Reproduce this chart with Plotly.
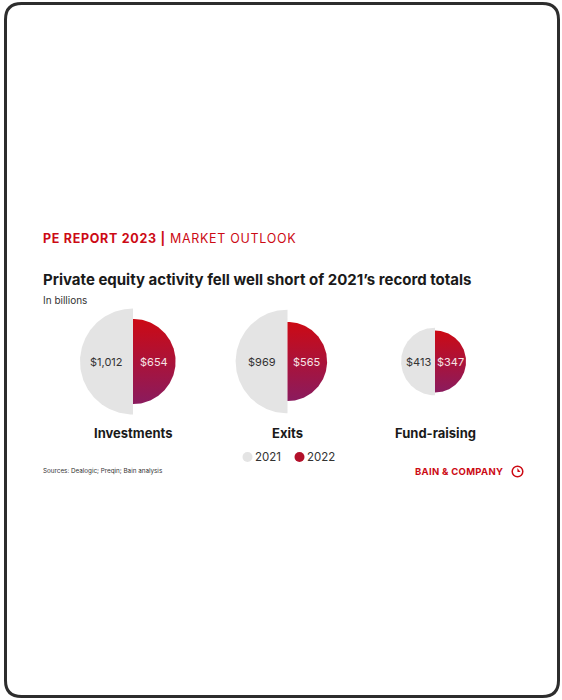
import numpy as np
import plotly.graph_objects as go

# ---- data ----
categories = ["Investments", "Exits", "Fund-raising"]
values_2021 = [1012, 969, 413]
values_2022 = [654, 565, 347]
years = ["2021", "2022"]

# ---- layout / style ----
W, H = 562, 700
centers_x = [133, 287.5, 435]
center_y = 361.5
radius_per_sqrt = 1.666          # area-proportional scaling: r = k * sqrt(value)
GRAY = "#e4e4e4"
RED = "#cc0a14"
PURPLE = "#8a1b5e"
TEXT = "#1a1a1a"
FONT = "Inter"

fig = go.Figure()


def half_disk(cx, cy, r, side):
    if side == "left":
        th = np.linspace(np.pi / 2, 3 * np.pi / 2, 121)
    else:
        th = np.linspace(-np.pi / 2, np.pi / 2, 121)
    x = cx + r * np.cos(th)
    y = cy - r * np.sin(th)
    return np.append(x, x[0]), np.append(y, y[0])


for cat, v1, v2, cx in zip(categories, values_2021, values_2022, centers_x):
    r1 = radius_per_sqrt * np.sqrt(v1)
    r2 = radius_per_sqrt * np.sqrt(v2)
    x, y = half_disk(cx, center_y, r1, "left")
    fig.add_trace(go.Scatter(x=x, y=y, mode="lines", fill="toself",
                             fillcolor=GRAY, line=dict(width=0),
                             hoverinfo="skip", showlegend=False))
    x, y = half_disk(cx, center_y, r2, "right")
    fig.add_trace(go.Scatter(x=x, y=y, mode="lines", fill="toself",
                             fillgradient=dict(type="vertical",
                                               start=center_y - r2, stop=center_y + r2,
                                               colorscale=[[0, RED], [1, PURPLE]]),
                             line=dict(width=0),
                             hoverinfo="skip", showlegend=False))
    fig.add_annotation(x=cx - r1 / 2, y=center_y, text=f"${v1:,}", showarrow=False,
                       font=dict(family=FONT, size=11, color="#333333"))
    fig.add_annotation(x=cx + r2 / 2, y=center_y, text=f"${v2:,}", showarrow=False,
                       font=dict(family=FONT, size=11, color="#f6e4e6"))
    fig.add_annotation(x=cx, y=433, text=f"<b>{cat}</b>", showarrow=False,
                       font=dict(family=FONT, size=13, color=TEXT))

# legend
legend_x = [247.5, 299.5]
legend_colors = [GRAY, "#b3102a"]
for lx, col, yr in zip(legend_x, legend_colors, years):
    fig.add_trace(go.Scatter(x=[lx], y=[457], mode="markers",
                             marker=dict(size=10, color=col, line=dict(width=0)),
                             hoverinfo="skip", showlegend=False))
    fig.add_annotation(x=lx + 5, y=457, text=yr, showarrow=False, xanchor="left",
                       font=dict(family=FONT, size=11.5, color="#333333"))

# header texts
fig.add_annotation(x=41, y=238, xanchor="left", showarrow=False,
                   text='<span style="letter-spacing:0.7px"><b>PE REPORT 2023 |</b> MARKET OUTLOOK</span>',
                   font=dict(family=FONT, size=12.5, color=RED))
fig.add_annotation(x=41, y=279, xanchor="left", showarrow=False,
                   text="<b>Private equity activity fell well short of 2021’s record totals</b>",
                   font=dict(family=FONT, size=15, color=TEXT))
fig.add_annotation(x=41, y=300, xanchor="left", showarrow=False,
                   text="In billions",
                   font=dict(family=FONT, size=10, color="#333333"))
fig.add_annotation(x=41, y=471, xanchor="left", showarrow=False,
                   text="Sources: Dealogic; Preqin; Bain analysis",
                   font=dict(family=FONT, size=6.3, color="#333333"))
fig.add_annotation(x=505, y=471.5, xanchor="right", showarrow=False,
                   text='<span style="letter-spacing:0.3px"><b>BAIN &amp; COMPANY</b></span>',
                   font=dict(family=FONT, size=9.5, color=RED))

# logo mark
lcx, lcy, lr = 517.5, 471.5, 5.3
fig.add_shape(type="circle", x0=lcx - lr, x1=lcx + lr, y0=lcy - lr, y1=lcy + lr,
              xref="x", yref="y", line=dict(color=RED, width=1.5))
fig.add_shape(type="path", xref="x", yref="y",
              path=f"M {lcx},{lcy + 0.5} L {lcx - 0.2},{lcy - 3.6} L {lcx + 3},{lcy + 0.5} Z",
              fillcolor=RED, line=dict(width=0))

# rounded frame
x0, y0, x1, y1, rr = 5.5, 3.5, 558.5, 696.5, 16
frame = (f"M {x0 + rr},{y0} L {x1 - rr},{y0} Q {x1},{y0} {x1},{y0 + rr} "
         f"L {x1},{y1 - rr} Q {x1},{y1} {x1 - rr},{y1} "
         f"L {x0 + rr},{y1} Q {x0},{y1} {x0},{y1 - rr} "
         f"L {x0},{y0 + rr} Q {x0},{y0} {x0 + rr},{y0} Z")
fig.add_shape(type="path", path=frame, xref="x", yref="y",
              line=dict(color="#2d2d2d", width=3), layer="above")

fig.update_layout(
    width=W, height=H, autosize=False,
    margin=dict(l=0, r=0, t=0, b=0),
    paper_bgcolor="white", plot_bgcolor="white",
    xaxis=dict(range=[0, W], visible=False, fixedrange=True),
    yaxis=dict(range=[H, 0], visible=False, fixedrange=True),
    showlegend=False,
)

fig.write_html("out.html")
